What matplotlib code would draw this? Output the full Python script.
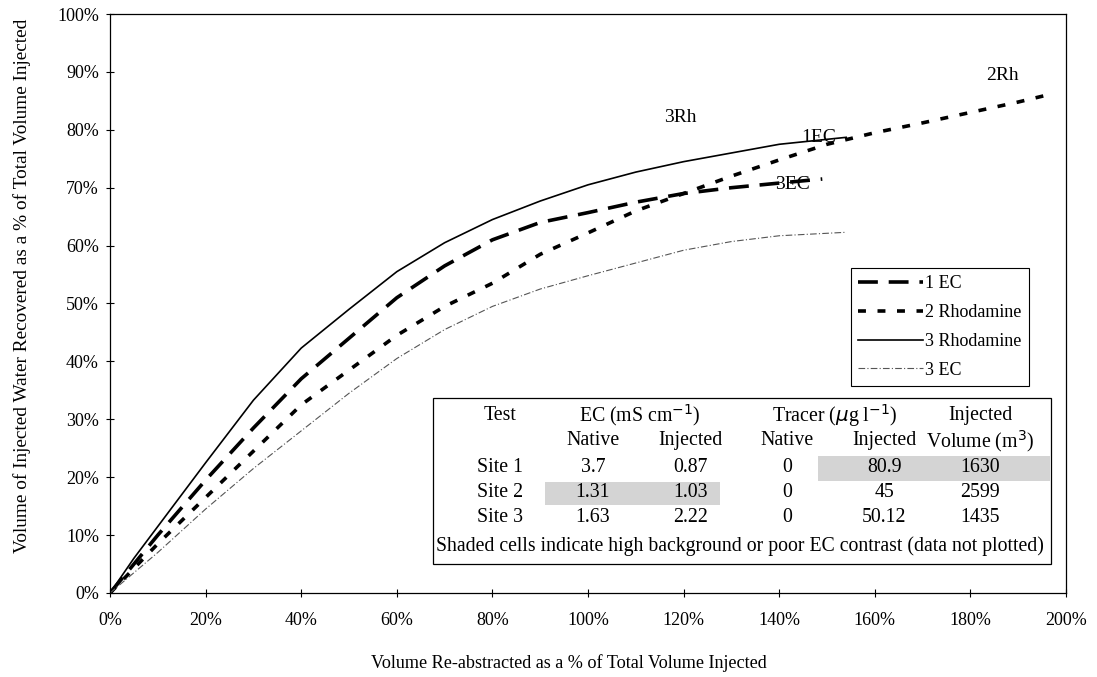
import matplotlib
matplotlib.use("Agg")
import matplotlib.pyplot as plt
from matplotlib.patches import Rectangle
from matplotlib.ticker import PercentFormatter

plt.rcParams['font.family'] = ['Liberation Serif', 'DejaVu Serif']

# recovery curves (fractions of injected volume)
ec1_x = [0, .05, .1, .2, .3, .4, .5, .6, .7, .8, .9, 1.0, 1.1, 1.2, 1.3, 1.4, 1.49]
ec1_y = [0, .05, .10, .195, .285, .37, .44, .51, .565, .61, .64, .657, .675, .69, .70, .708, .715]

rh2_x = [0, .1, .2, .3, .4, .5, .6, .7, .8, .9, 1.0, 1.1, 1.2, 1.3, 1.4, 1.5, 1.6, 1.7, 1.8, 1.9, 1.96]
rh2_y = [0, .085, .165, .245, .325, .385, .445, .495, .535, .585, .622, .66, .69, .72, .748, .775, .795, .812, .83, .848, .86]

rh3_x = [0, .05, .1, .2, .3, .4, .5, .6, .7, .8, .9, 1.0, 1.1, 1.2, 1.3, 1.4, 1.54]
rh3_y = [0, .06, .115, .225, .333, .423, .49, .555, .605, .645, .677, .705, .727, .745, .76, .775, .787]

ec3_x = [0, .1, .2, .3, .4, .5, .6, .7, .8, .9, 1.0, 1.1, 1.2, 1.3, 1.4, 1.54]
ec3_y = [0, .07, .145, .215, .28, .345, .405, .455, .495, .525, .548, .57, .592, .607, .617, .623]

# site table
col_heads = ["Native", "Injected", "Native", "Injected", "Volume (m$^3$)"]
sites = ["Site 1", "Site 2", "Site 3"]
ec_native = ["3.7", "1.31", "1.63"]
ec_injected = ["0.87", "1.03", "2.22"]
tr_native = ["0", "0", "0"]
tr_injected = ["80.9", "45", "50.12"]
volume = ["1630", "2599", "1435"]

fig = plt.figure(figsize=(10.97, 6.77), dpi=100)
ax = fig.add_axes([0.1003, 0.1241, 0.8715, 0.8552])

ax.plot(ec1_x, ec1_y, color='black', lw=2.6, dashes=(5.5, 3), label='1 EC')
ax.plot(rh2_x, rh2_y, color='black', lw=2.6, dashes=(2.2, 3.2), label='2 Rhodamine')
ax.plot(rh3_x, rh3_y, color='black', lw=1.2, label='3 Rhodamine')
ax.plot(ec3_x, ec3_y, color='#555555', lw=0.8, dashes=(6, 2, 1, 2), label='3 EC')

lf = 14
ax.text(1.194, 0.822, '3Rh', fontsize=lf, ha='center', va='center')
ax.text(1.483, 0.786, '1EC', fontsize=lf, ha='center', va='center')
ax.text(1.428, 0.706, '3EC', fontsize=lf, ha='center', va='center')
ax.text(1.866, 0.893, '2Rh', fontsize=lf, ha='center', va='center')

ax.set_xlim(0, 2.0)
ax.set_ylim(0, 1.0)
ax.set_xticks([i * 0.2 for i in range(11)])
ax.set_yticks([i * 0.1 for i in range(11)])
ax.xaxis.set_major_formatter(PercentFormatter(1.0, decimals=0))
ax.yaxis.set_major_formatter(PercentFormatter(1.0, decimals=0))
ax.tick_params(direction='inout', length=6, width=0.8, labelsize=13)
ax.tick_params(axis='x', pad=11)
ax.tick_params(axis='y', pad=5)
for s in ax.spines.values():
    s.set_linewidth(0.9)

ax.set_xlabel('Volume Re-abstracted as a % of Total Volume Injected', fontsize=13.1)
ax.xaxis.set_label_coords(0.48, -0.105)
ax.set_ylabel('Volume of Injected Water Recovered as a % of Total Volume Injected', fontsize=13.9)
ax.yaxis.set_label_coords(-0.083, 0.53)

leg = ax.legend(loc='upper left', bbox_to_anchor=(0.775, 0.561), fontsize=13,
                frameon=True, fancybox=False, edgecolor='black', framealpha=1, borderaxespad=0,
                handlelength=3.6, handletextpad=0.1, borderpad=0.4, labelspacing=0.65)
leg.get_frame().set_linewidth(0.8)

# table drawn in axes fraction
tr = ax.transAxes
ax.add_patch(Rectangle((0.338, 0.050), 0.646, 0.287, transform=tr, fill=False, lw=0.9, ec='black'))
ax.add_patch(Rectangle((0.741, 0.193), 0.242, 0.044, transform=tr, fc='#d4d4d4', ec='none'))
ax.add_patch(Rectangle((0.455, 0.152), 0.183, 0.040, transform=tr, fc='#d4d4d4', ec='none'))

cols = [0.505, 0.607, 0.708, 0.810, 0.910]
rows = [0.216, 0.173, 0.130]
fs = 14.3
ax.text(0.408, 0.307, 'Test', transform=tr, ha='center', va='center', fontsize=fs)
ax.text(0.554, 0.307, 'EC (mS cm$^{-1}$)', transform=tr, ha='center', va='center', fontsize=fs)
ax.text(0.758, 0.307, 'Tracer ($\\mu$g l$^{-1}$)', transform=tr, ha='center', va='center', fontsize=fs)
ax.text(0.910, 0.307, 'Injected', transform=tr, ha='center', va='center', fontsize=fs)
for c, h in zip(cols, col_heads):
    ax.text(c, 0.263, h, transform=tr, ha='center', va='center', fontsize=fs)
for i, r in enumerate(rows):
    ax.text(0.408, r, sites[i], transform=tr, ha='center', va='center', fontsize=fs)
    vals = [ec_native[i], ec_injected[i], tr_native[i], tr_injected[i], volume[i]]
    for c, v in zip(cols, vals):
        ax.text(c, r, v, transform=tr, ha='center', va='center', fontsize=fs)
ax.text(0.341, 0.081, 'Shaded cells indicate high background or poor EC contrast (data not plotted)',
        transform=tr, ha='left', va='center', fontsize=14.2)

fig.savefig('out.png', dpi=100)
